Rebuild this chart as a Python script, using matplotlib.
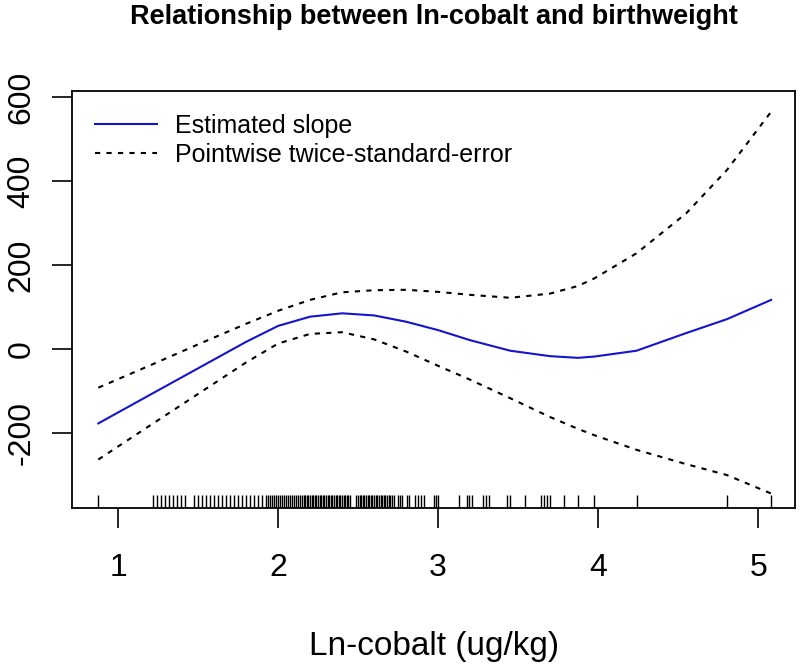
import numpy as np
import matplotlib
matplotlib.use("Agg")
import matplotlib.pyplot as plt
import matplotlib.transforms as mtransforms

plt.rcParams['font.family'] = ['Liberation Sans', 'DejaVu Sans']
plt.rcParams['axes.unicode_minus'] = False

# fitted curve (x = ln-cobalt)
x_fit = [0.877, 1.2, 1.5, 1.8, 2.0, 2.2, 2.4, 2.6, 2.8, 3.0, 3.2, 3.45,
         3.7, 3.873, 3.975, 4.24, 4.55, 4.804, 5.081]
slope = [-177, -109, -46, 17, 55, 77, 85, 80, 65, 45, 21, -4,
         -17, -21, -18, -4, 38, 71, 117]
upper = [-92, -39, 11, 60, 91, 117, 135, 140, 141, 136, 129, 122,
         132, 150, 168, 228, 323, 426, 565]
lower = [-263, -182, -107, -32, 13, 36, 40, 23, -6, -40, -73, -117,
         -162, -190, -205, -240, -274, -300, -344]

# rug of observed ln-cobalt values
rug_x = [
    0.877,
    1.221, 1.246, 1.271, 1.296, 1.321, 1.346, 1.371, 1.396, 1.421,
    1.477, 1.502, 1.527, 1.552, 1.577, 1.602, 1.627, 1.648, 1.673, 1.698,
    1.723, 1.748, 1.773, 1.798, 1.823, 1.848, 1.873, 1.898,
    1.925, 1.938, 1.950, 1.963, 1.975, 1.988, 2.000, 2.013, 2.025, 2.038,
    2.050, 2.063, 2.075, 2.088, 2.100, 2.113, 2.125, 2.138, 2.150,
    2.16, 2.17, 2.18, 2.19, 2.20, 2.21, 2.22, 2.23, 2.24, 2.25,
    2.26, 2.27, 2.28, 2.29, 2.30, 2.31, 2.32, 2.33, 2.34, 2.35,
    2.36, 2.37, 2.38, 2.39, 2.40, 2.41, 2.42, 2.43, 2.44, 2.45,
    2.49, 2.50, 2.51, 2.52, 2.53, 2.54, 2.55, 2.56, 2.57, 2.58,
    2.59, 2.60, 2.61, 2.62, 2.63, 2.64, 2.65, 2.66, 2.67, 2.68, 2.69,
    2.70, 2.713, 2.725, 2.75, 2.763, 2.775,
    2.806, 2.819, 2.856, 2.875, 2.894, 2.913,
    2.975, 2.988, 3.0,
    3.133, 3.179, 3.196, 3.211, 3.283, 3.30, 3.317, 3.433, 3.446, 3.544,
    3.644, 3.663, 3.679, 3.70, 3.788, 3.873, 3.975, 4.24, 4.804, 5.081,
]

fig = plt.figure(figsize=(8, 6.65), dpi=100)
ax = fig.add_axes([0.09, 0.236, 0.904, 0.627])

ax.plot(x_fit, slope, color='#1414cc', lw=1.5, label='Estimated slope')
ax.plot(x_fit, upper, color='black', lw=1.5, ls=(0, (2.5, 3)),
        label='Pointwise twice-standard-error')
ax.plot(x_fit, lower, color='black', lw=1.5, ls=(0, (2.5, 3)))

# rug along the bottom
trans = mtransforms.blended_transform_factory(ax.transData, ax.transAxes)
ax.vlines(rug_x, 0, 0.031, transform=trans, color='black', lw=1.0)

ax.set_xlim(0.7125, 5.231)
ax.set_ylim(-378.6, 614)
ax.set_xticks([1, 2, 3, 4, 5])
ax.set_yticks([-200, 0, 200, 400, 600])

for s in ax.spines.values():
    s.set_linewidth(1.3)
ax.tick_params(direction='out', length=14.4, width=1.2, labelsize=23)
ax.tick_params(axis='x', pad=18)
ax.tick_params(axis='y', pad=11)
plt.setp(ax.get_yticklabels(), rotation=90, va='center')

ax.set_title('Relationship between ln-cobalt and birthweight',
             fontsize=19.5, fontweight='bold', pad=48)
fig.text(0.542, 1 - 647 / 665, 'Ln-cobalt (ug/kg)', fontsize=24,
         ha='center', va='center')

ax.legend(loc='upper left', bbox_to_anchor=(0.0318, 0.945), frameon=False,
          fontsize=18, handlelength=2.5, handletextpad=0.7,
          borderpad=0, borderaxespad=0, labelspacing=0.2)

fig.savefig('out.png', dpi=100)
